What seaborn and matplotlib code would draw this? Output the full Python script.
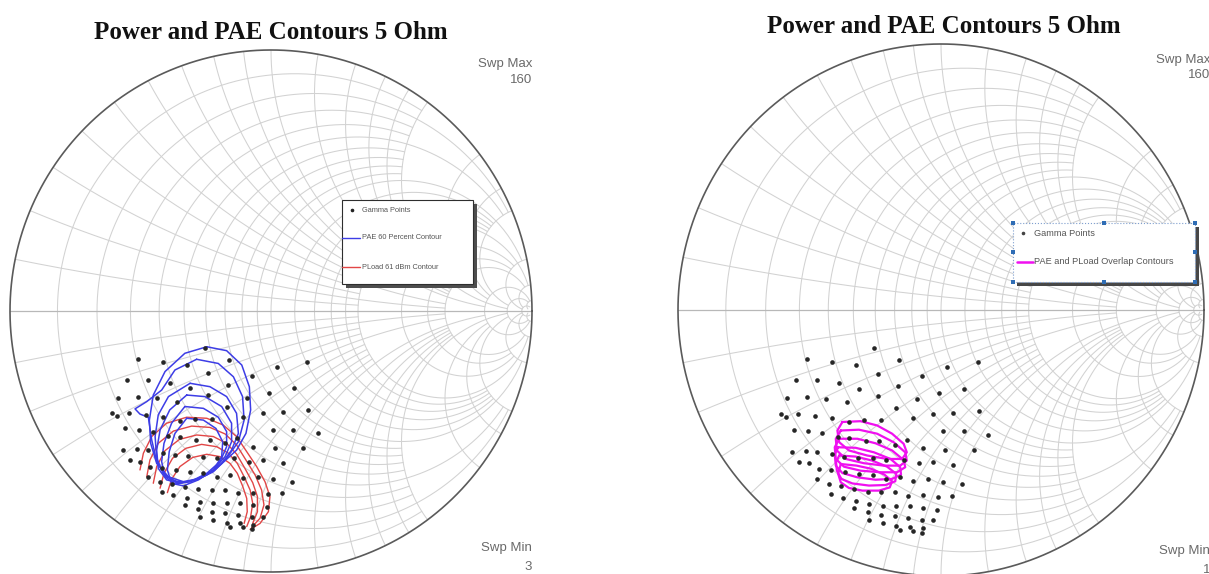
import numpy as np
import pandas as pd
import matplotlib
matplotlib.use("Agg")
import matplotlib.pyplot as plt
from matplotlib.patches import Rectangle
from matplotlib.lines import Line2D
import seaborn as sns

# ---- data (reflection coefficient plane) ----
gamma_re = [-0.253,
            -0.511, -0.415, -0.323, -0.160, 0.022, 0.139,
            -0.553, -0.470, -0.388, -0.310, -0.240, -0.163, -0.074, -0.006, 0.088,
            -0.585, -0.508, -0.438, -0.359, -0.240, -0.170, -0.093, -0.029, 0.047, 0.143,
            -0.610, -0.591, -0.543, -0.479, -0.413, -0.349, -0.291, -0.227, -0.106, 0.006, 0.086, 0.179,
            -0.559, -0.504, -0.451, -0.393, -0.349, -0.287, -0.234, -0.176, -0.129, -0.068, 0.015, 0.124,
            -0.566, -0.515, -0.470, -0.415, -0.368, -0.317, -0.259, -0.208, -0.142, -0.083, -0.029, 0.047,
            -0.540, -0.502, -0.464, -0.419, -0.364, -0.310, -0.259, -0.208, -0.157, -0.106, -0.049, 0.009, 0.079,
            -0.470, -0.425, -0.381, -0.330, -0.278, -0.227, -0.176, -0.125, -0.068, -0.010, 0.041,
            -0.419, -0.374, -0.323, -0.272, -0.221, -0.170, -0.119, -0.068, -0.017,
            -0.330, -0.278, -0.227, -0.176, -0.125, -0.074, -0.029,
            -0.272, -0.221, -0.170, -0.119, -0.068,
            -0.157, -0.106, -0.074]
gamma_im = [-0.143,
            -0.185, -0.194, -0.207, -0.188, -0.213, -0.194,
            -0.264, -0.264, -0.275, -0.296, -0.239, -0.284, -0.249, -0.313, -0.296,
            -0.332, -0.328, -0.335, -0.347, -0.322, -0.369, -0.335, -0.392, -0.386, -0.379,
            -0.392, -0.402, -0.390, -0.398, -0.407, -0.420, -0.415, -0.415, -0.407, -0.456, -0.456, -0.469,
            -0.450, -0.456, -0.462, -0.479, -0.481, -0.494, -0.494, -0.507, -0.488, -0.520, -0.526, -0.526,
            -0.533, -0.530, -0.533, -0.543, -0.552, -0.556, -0.558, -0.564, -0.564, -0.577, -0.571, -0.584,
            -0.571, -0.577, -0.596, -0.603, -0.609, -0.616, -0.622, -0.635, -0.628, -0.641, -0.635, -0.645, -0.654,
            -0.635, -0.654, -0.663, -0.673, -0.683, -0.686, -0.686, -0.699, -0.696, -0.702, -0.699,
            -0.692, -0.705, -0.718, -0.731, -0.737, -0.737, -0.737, -0.743, -0.750,
            -0.743, -0.760, -0.769, -0.775, -0.782, -0.788, -0.788,
            -0.788, -0.801, -0.811, -0.814, -0.820,
            -0.826, -0.829, -0.837]

# PAE 60 % contours (closed loops)
pae_re = [
    [-0.246, -0.170, -0.112, -0.083, -0.078, -0.096, -0.132, -0.170, -0.215, -0.272, -0.336, -0.393, -0.438, -0.461, -0.466, -0.451, -0.406, -0.330],
    [-0.285, -0.202, -0.144, -0.109, -0.103, -0.125, -0.170, -0.221, -0.285, -0.349, -0.402, -0.438, -0.457, -0.470, -0.502, -0.521, -0.476, -0.419, -0.368],
    [-0.310, -0.234, -0.170, -0.132, -0.125, -0.151, -0.189, -0.246, -0.310, -0.368, -0.413, -0.438, -0.444, -0.432, -0.393],
    [-0.323, -0.253, -0.189, -0.151, -0.151, -0.176, -0.221, -0.285, -0.349, -0.400, -0.432, -0.438, -0.425, -0.388],
    [-0.330, -0.259, -0.202, -0.170, -0.170, -0.195, -0.246, -0.310, -0.368, -0.406, -0.419, -0.410, -0.381],
    [-0.323, -0.259, -0.211, -0.185, -0.189, -0.221, -0.278, -0.336, -0.381, -0.397, -0.390, -0.368],
]
pae_im = [
    [-0.137, -0.152, -0.207, -0.290, -0.379, -0.469, -0.533, -0.568, -0.609, -0.641, -0.654, -0.635, -0.584, -0.507, -0.418, -0.322, -0.232, -0.162],
    [-0.185, -0.201, -0.252, -0.328, -0.418, -0.501, -0.564, -0.616, -0.647, -0.658, -0.635, -0.577, -0.494, -0.407, -0.395, -0.375, -0.347, -0.303, -0.226],
    [-0.277, -0.290, -0.328, -0.392, -0.469, -0.533, -0.584, -0.628, -0.654, -0.654, -0.622, -0.564, -0.481, -0.398, -0.328],
    [-0.322, -0.328, -0.366, -0.430, -0.501, -0.558, -0.609, -0.645, -0.660, -0.647, -0.603, -0.533, -0.456, -0.379],
    [-0.366, -0.373, -0.407, -0.462, -0.520, -0.577, -0.622, -0.654, -0.663, -0.635, -0.577, -0.507, -0.430],
    [-0.411, -0.418, -0.450, -0.501, -0.558, -0.609, -0.647, -0.670, -0.660, -0.609, -0.539, -0.469],
]

# PLoad 61 dBm contours (open arcs, clipped by the swept region)
pload_re = [
    [-0.502, -0.489, -0.457, -0.400, -0.323, -0.246, -0.183, -0.132, -0.093, -0.055, -0.023, -0.004, -0.010, -0.042, -0.080],
    [-0.476, -0.464, -0.432, -0.374, -0.304, -0.234, -0.176, -0.132, -0.096, -0.061, -0.036, -0.027, -0.042, -0.074],
    [-0.451, -0.438, -0.406, -0.351, -0.285, -0.221, -0.170, -0.132, -0.100, -0.070, -0.052, -0.052, -0.070],
    [-0.425, -0.410, -0.377, -0.326, -0.266, -0.208, -0.163, -0.129, -0.103, -0.080, -0.070, -0.078, -0.093],
    [-0.397, -0.381, -0.349, -0.300, -0.246, -0.195, -0.157, -0.129, -0.109, -0.093, -0.091, -0.103],
]
pload_im = [
    [-0.609, -0.545, -0.481, -0.430, -0.407, -0.411, -0.437, -0.481, -0.539, -0.596, -0.654, -0.711, -0.769, -0.814, -0.837],
    [-0.635, -0.571, -0.507, -0.460, -0.441, -0.446, -0.471, -0.513, -0.571, -0.628, -0.686, -0.743, -0.794, -0.829],
    [-0.660, -0.596, -0.535, -0.492, -0.475, -0.481, -0.507, -0.548, -0.603, -0.658, -0.711, -0.769, -0.814],
    [-0.679, -0.622, -0.564, -0.526, -0.511, -0.520, -0.545, -0.584, -0.635, -0.686, -0.737, -0.788, -0.826],
    [-0.696, -0.645, -0.596, -0.561, -0.549, -0.558, -0.584, -0.622, -0.670, -0.718, -0.769, -0.814],
]

# PAE and PLoad overlap contours (closed loops)
overlap_re = [
    [-0.375, -0.306, -0.243, -0.186, -0.142, -0.130, -0.148, -0.205, -0.281, -0.350, -0.387, -0.394],
    [-0.381, -0.312, -0.243, -0.180, -0.136, -0.130, -0.155, -0.218, -0.293, -0.362, -0.396, -0.400],
    [-0.387, -0.318, -0.249, -0.186, -0.142, -0.136, -0.167, -0.230, -0.306, -0.369, -0.400, -0.404],
    [-0.391, -0.325, -0.255, -0.192, -0.155, -0.152, -0.186, -0.249, -0.318, -0.375, -0.400, -0.404],
    [-0.387, -0.325, -0.262, -0.205, -0.170, -0.174, -0.211, -0.274, -0.337, -0.379, -0.396, -0.399],
    [-0.381, -0.321, -0.265, -0.215, -0.186, -0.195, -0.236, -0.299, -0.350, -0.381, -0.391],
]
overlap_im = [
    [-0.421, -0.418, -0.434, -0.465, -0.503, -0.535, -0.560, -0.560, -0.547, -0.528, -0.497, -0.453],
    [-0.453, -0.450, -0.465, -0.497, -0.535, -0.566, -0.585, -0.585, -0.576, -0.560, -0.528, -0.484],
    [-0.484, -0.484, -0.501, -0.528, -0.564, -0.591, -0.610, -0.610, -0.604, -0.589, -0.560, -0.516],
    [-0.516, -0.518, -0.535, -0.560, -0.591, -0.619, -0.635, -0.638, -0.629, -0.613, -0.585, -0.543],
    [-0.547, -0.551, -0.566, -0.589, -0.616, -0.644, -0.658, -0.660, -0.652, -0.635, -0.604, -0.572],
    [-0.579, -0.585, -0.597, -0.619, -0.644, -0.667, -0.679, -0.679, -0.669, -0.648, -0.616],
]

title = "Power and PAE Contours 5 Ohm"
legend_left = ["Gamma Points", "PAE 60 Percent Contour", "PLoad 61 dBm Contour"]
legend_right = ["Gamma Points", "PAE and PLoad Overlap Contours"]

# ---- smith chart grid (resistance / reactance values and where they stop) ----
grid_vals = [0.1, 0.2, 0.3, 0.4, 0.5, 0.6, 0.7, 0.8, 0.9, 1.0,
             1.2, 1.4, 1.6, 1.8, 2.0, 3.0, 4.0, 5.0, 10.0, 20.0, 50.0]
grid_stop = [2, 5, 2, 2, 5, 2, 2, 2, 2, 10,
             5, 5, 5, 5, 20, 10, 10, 20, 50, 50, 100]

W, H = 1209, 574
GRID = "#d2d2d2"

sns.set_style("white")
plt.rcParams["font.family"] = ["Liberation Sans", "DejaVu Sans"]

fig = plt.figure(figsize=(W / 100, H / 100), dpi=100)


def fx(x):
    return x / W


def fy(y):
    return 1 - y / H


def smith_axes(cx, cy, rx, ry):
    ax = fig.add_axes([fx(cx - rx), fy(cy + ry), 2 * rx / W, 2 * ry / H])
    ax.set_xlim(-1, 1)
    ax.set_ylim(-1, 1)
    ax.axis("off")
    for r, stop in zip(grid_vals, grid_stop):
        xs = np.tan(np.linspace(-np.arctan(stop), np.arctan(stop), 400))
        g = (r + 1j * xs - 1) / (r + 1j * xs + 1)
        ax.plot(g.real, g.imag, color=GRID, lw=0.75, zorder=1)
        rs = np.tan(np.linspace(0, np.arctan(stop), 300))
        for s in (1, -1):
            g = (rs + 1j * s * r - 1) / (rs + 1j * s * r + 1)
            ax.plot(g.real, g.imag, color=GRID, lw=0.75, zorder=1)
    ax.plot([-1, 1], [0, 0], color="#b8b8b8", lw=0.9, zorder=1)
    t = np.linspace(0, 2 * np.pi, 720)
    ax.plot(np.cos(t), np.sin(t), color="#5a5a5a", lw=1.2, zorder=2, clip_on=False)
    return ax


def loops_frame(re_lists, im_lists, closed):
    rows = []
    for k, (re, im) in enumerate(zip(re_lists, im_lists)):
        if closed:
            re = re + re[:1]
            im = im + im[:1]
        for i, (a, b) in enumerate(zip(re, im)):
            rows.append((k, i, a, b))
    return pd.DataFrame(rows, columns=["loop", "idx", "re", "im"])


def draw_points(ax):
    sns.scatterplot(x=gamma_re, y=gamma_im, ax=ax, s=11, color="#262626",
                    linewidth=0, legend=False, zorder=4)


def draw_loops(ax, df, color, lw):
    sns.lineplot(data=df, x="re", y="im", units="loop", estimator=None, sort=False,
                 color=color, lw=lw, ax=ax, legend=False, zorder=3)
    ax.set_xlim(-1, 1)
    ax.set_ylim(-1, 1)
    ax.set_xlabel("")
    ax.set_ylabel("")


# ---- left chart ----
axL = smith_axes(271, 311, 261, 261)
draw_points(axL)
draw_loops(axL, loops_frame(pload_re, pload_im, False), "#e24646", 1.0)
draw_loops(axL, loops_frame(pae_re, pae_im, True), "#3d3de6", 1.1)

# ---- right chart ----
axR = smith_axes(941, 310, 263, 266)
draw_points(axR)
draw_loops(axR, loops_frame(overlap_re, overlap_im, True), "#f010f0", 1.6)

# ---- titles and sweep labels ----
for cx, base in ((271, 39), (944, 33)):
    fig.text(fx(cx), fy(base), title, ha="center", va="baseline", fontsize=18,
             fontweight="bold", family=["Liberation Serif", "DejaVu Serif"], color="#111111")

for xr, ys, labels in ((532, (64, 80, 548, 567), ("Swp Max", "160", "Swp Min", "3")),
                       (1210, (60, 75, 551, 570), ("Swp Max", "160", "Swp Min", "1"))):
    for y, s in zip(ys, labels):
        fig.text(fx(xr), fy(y), s, ha="right", va="center", fontsize=9.5, color="#6a6a6a")


def fig_rect(x, y, w, h, **kw):
    fig.add_artist(Rectangle((fx(x), fy(y + h)), w / W, h / H,
                             transform=fig.transFigure, **kw))


def fig_line(xs, ys, **kw):
    fig.add_artist(Line2D([fx(v) for v in xs], [fy(v) for v in ys],
                          transform=fig.transFigure, **kw))


# left legend
fig_rect(346, 204, 131, 84, facecolor="#4e4e4e", edgecolor="none", zorder=5)
fig_rect(342, 200, 131, 84, facecolor="white", edgecolor="#2e2e2e", lw=0.8, zorder=6)
fig_line([352], [210], marker="o", ms=1.6, color="#222222", lw=0, zorder=7)
fig_line([342, 360], [238, 238], color="#3d3de6", lw=1.0, zorder=7)
fig_line([342, 360], [267, 267], color="#e24646", lw=1.0, zorder=7)
for y, s in zip((210, 238, 267), legend_left):
    fig.text(fx(362), fy(y), s, ha="left", va="center", fontsize=5.3, color="#555555", zorder=8)

# right legend (shown selected, with handles)
fig_rect(1017, 227, 182, 59, facecolor="#474747", edgecolor="none", zorder=5)
fig_rect(1013, 223, 182, 59, facecolor="white", edgecolor="#7f9fcf", lw=0.8, ls=":", zorder=6)
for hx in (1013, 1104, 1195):
    for hy in (223, 252, 282):
        if hx == 1104 and hy == 252:
            continue
        fig_rect(hx - 2, hy - 2, 4, 4, facecolor="#2f6db5", edgecolor="none", zorder=9)
fig_line([1023], [233], marker="o", ms=1.6, color="#444444", lw=0, zorder=7)
fig_line([1017, 1033], [262, 262], color="#f010f0", lw=1.8, zorder=7)
for y, s in zip((233, 262), legend_right):
    fig.text(fx(1034), fy(y), s, ha="left", va="center", fontsize=6.6, color="#555555", zorder=8)

fig.savefig("out.png", dpi=100)
